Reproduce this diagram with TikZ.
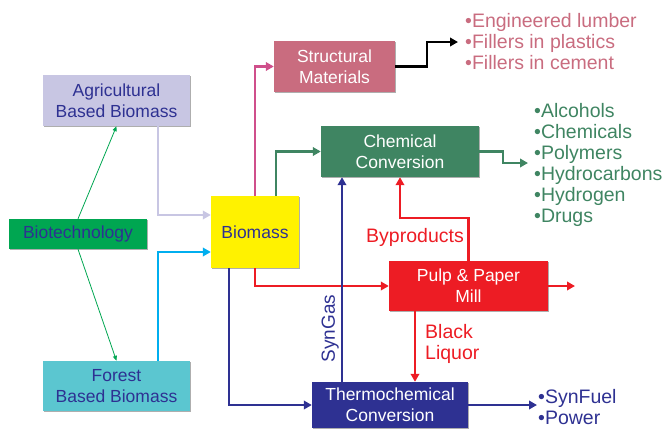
\documentclass[tikz,border=0pt]{standalone}
\usepackage{fontspec}
\setmainfont{Liberation Sans}
\usetikzlibrary{positioning,arrows.meta,shadows}
\definecolor{txtblue}{HTML}{2E3192}
\definecolor{lavender}{HTML}{C8C6E3}
\definecolor{biogreen}{HTML}{00A651}
\definecolor{forestcyan}{HTML}{5BC6D0}
\definecolor{skyline}{HTML}{00AEEF}
\definecolor{bioyellow}{HTML}{FFF200}
\definecolor{rose}{HTML}{C96C7F}
\definecolor{magline}{HTML}{CF4F8B}
\definecolor{chemgreen}{HTML}{3F8562}
\definecolor{pulpred}{HTML}{ED1C24}

\begin{document}
\begin{tikzpicture}[x=1pt,y=-1pt,
  box/.style={rectangle, inner sep=1pt, align=center, font=\fontsize{17.5}{21}\selectfont,
    drop shadow={shadow xshift=1.3pt, shadow yshift=-1.3pt, fill=black!45, opacity=.7}},
  flow/.style={line width=2.4pt, -{Triangle[length=8pt,width=8.5pt]}},
  thinflow/.style={line width=0.8pt, draw=biogreen, -{Triangle[length=5pt,width=4pt]}},
  lbl/.style={font=\fontsize{19.5}{21}\selectfont, align=left, inner sep=0pt}]
	\useasboundingbox (0,0) rectangle (665,429);

	\node [box, fill=lavender, text=txtblue, minimum width=147, minimum height=51] (agri) at (116.5,100.5) {Agricultural\\Based Biomass};
	\node [box, fill=biogreen, text=txtblue, minimum width=138, minimum height=30] (biotech) at (78,234) {Biotechnology};
	\node [box, fill=forestcyan, text=txtblue, minimum width=147, minimum height=50] (forest) at (116.5,386) {Forest\\Based Biomass};
	\node [box, fill=bioyellow, text=txtblue, minimum width=88, minimum height=72] (biomass) at (255,232) {Biomass};
	\node [box, fill=rose, text=white, minimum width=121, minimum height=51] (struct) at (334.5,66.5) {Structural\\Materials};
	\node [box, fill=chemgreen, text=white, minimum width=158, minimum height=51] (chem) at (400,151.5) {Chemical\\Conversion};
	\node [box, fill=pulpred, text=white, minimum width=159, minimum height=50] (pulp) at (468.5,286) {Pulp \& Paper\\Mill};
	\node [box, fill=txtblue, text=white, minimum width=156, minimum height=46] (thermo) at (390,405) {Thermochemical\\Conversion};

	\node [lbl, text=rose, anchor=west] (structlist) at (465,42) {•Engineered lumber\\•Fillers in plastics\\•Fillers in cement};
	\node [lbl, text=chemgreen, anchor=west] (chemlist) at (534,164.5) {•Alcohols\\•Chemicals\\•Polymers\\•Hydrocarbons\\•Hydrogen\\•Drugs};
	\node [lbl, text=txtblue, anchor=west] (thermolist) at (538,407) {•SynFuel\\•Power};
	\node [lbl, text=pulpred] (byp) at (415,237) {Byproducts};
	\node [lbl, text=pulpred, anchor=west] (liquor) at (425,344) {Black\\Liquor};

	\coordinate (structout) at (458,42);
	\coordinate (chemout) at (528,163);
	\coordinate (pulpout) at (575,286);
	\coordinate (thermout) at (537,405);

	\draw [thinflow] (biotech.north) -- (agri.south);
	\draw [thinflow] (biotech.south) -- (forest.north);
	\draw [flow, draw=lavender] ([xshift=41.5pt]agri.south) |- ([yshift=17pt]biomass.west);
	\draw [flow, draw=skyline] ([xshift=41.5pt]forest.north) |- ([yshift=-20pt]biomass.west);
	\draw [flow, draw=magline] (biomass.north) |- (struct.west);
	\draw [flow, draw=chemgreen] ([xshift=21pt]biomass.north) |- (chem.west);
	\draw [flow, draw=pulpred] (biomass.south) |- (pulp.west);
	\draw [flow, draw=txtblue] ([xshift=-26pt]biomass.south) |- (thermo.west);
	\draw [flow, draw=black] (struct.east) -- ++(32,0) |- (structout);
	\draw [flow, draw=chemgreen] (chem.east) -- ++(24,0) |- (chemout);
	\draw [flow, draw=pulpred] (pulp.east) -- (pulpout);
	\draw [flow, draw=txtblue] (thermo.east) -- (thermout);
	\draw [flow, draw=pulpred] (pulp.north) -- ++(0,-43) -| (chem.south);
	\draw [flow, draw=pulpred] ([xshift=-53.5pt]pulp.south) -- ([xshift=-53.5pt]pulp.south |- thermo.north);
	\draw [flow, draw=txtblue] ([xshift=-48pt]thermo.north) -- ([xshift=-48pt]thermo.north |- chem.south)
	node [pos=0.26, above=2pt, sloped, text=txtblue, font=\fontsize{19}{21}\selectfont, inner sep=0pt] {SynGas};
\end{tikzpicture}
\end{document}
